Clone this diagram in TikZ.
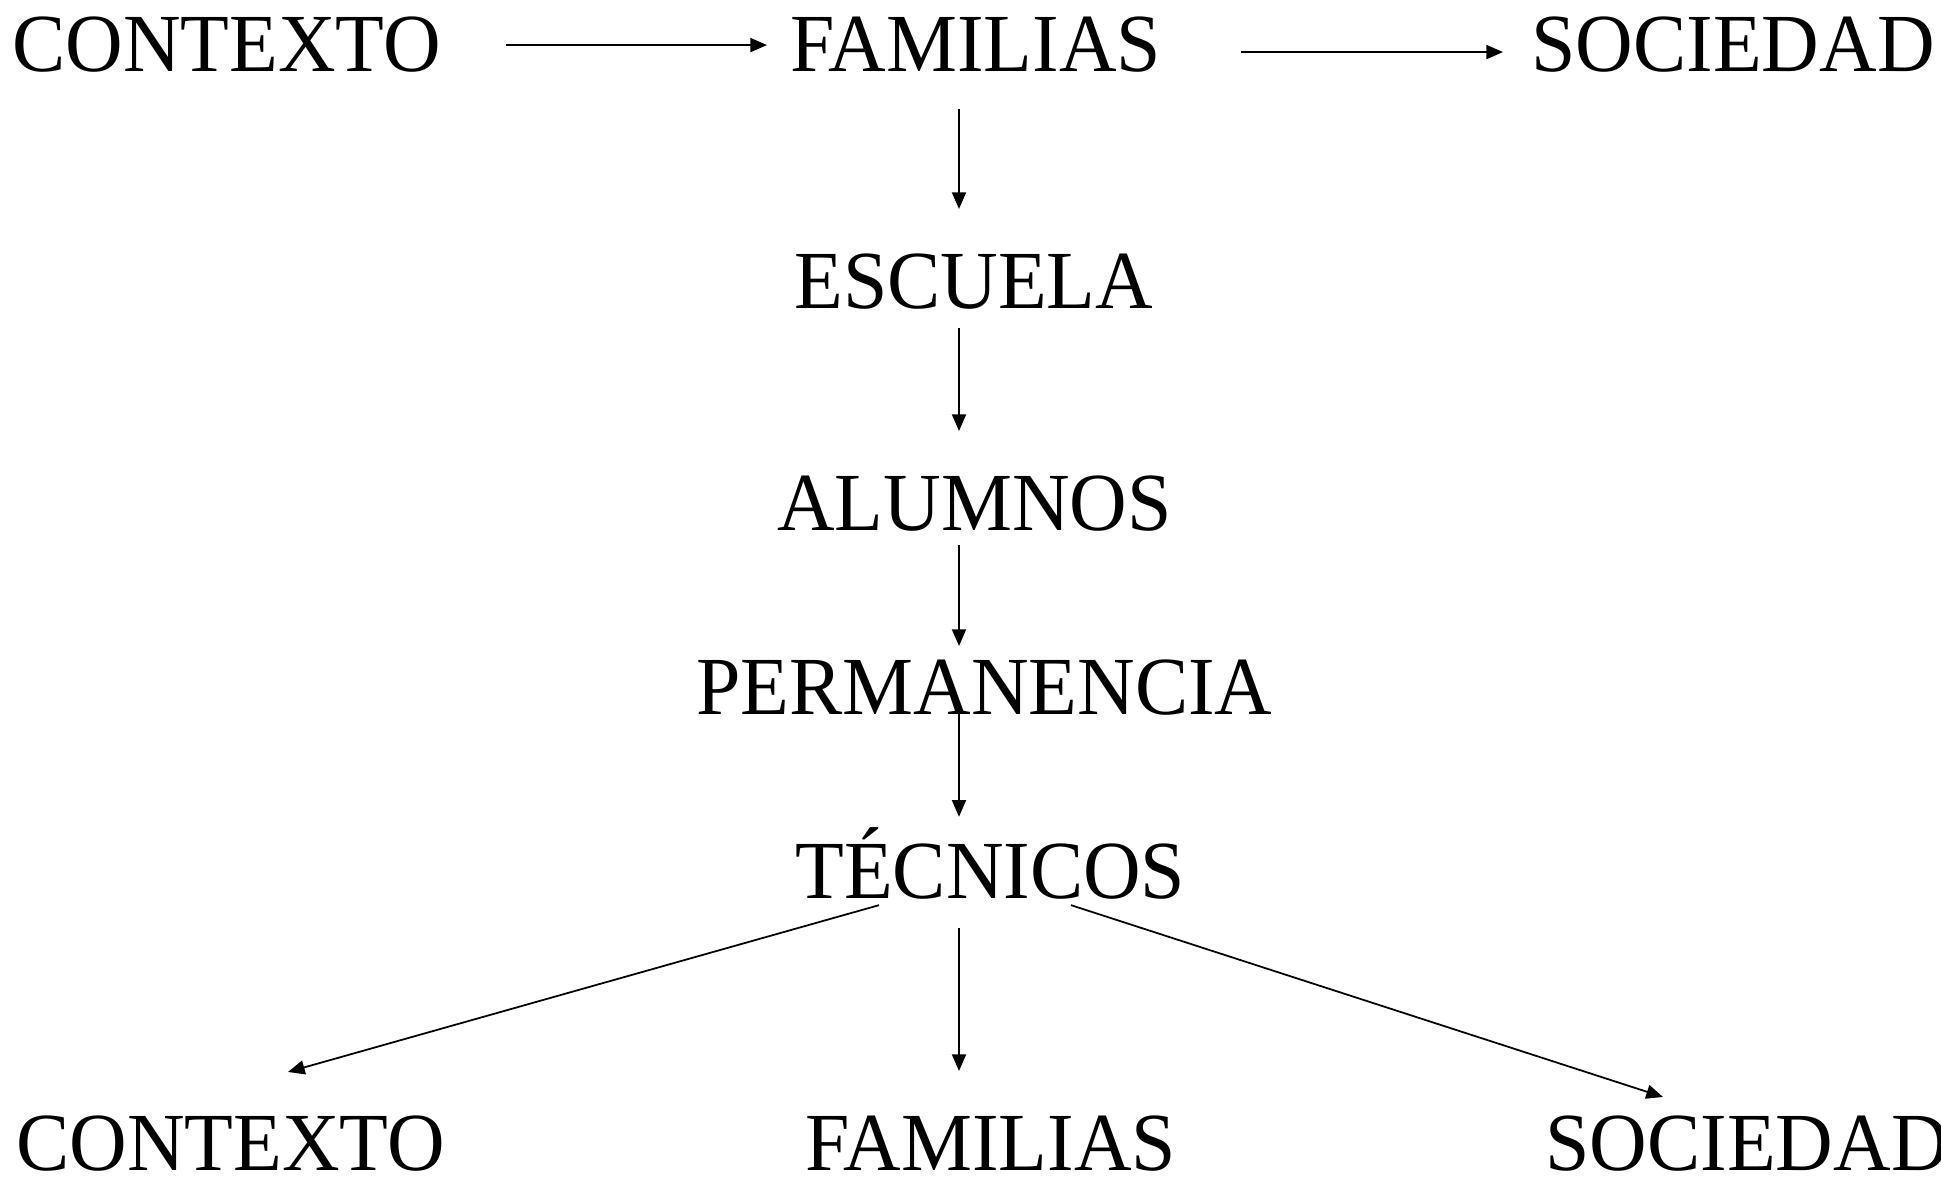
\documentclass[tikz,border=0pt]{standalone}
\usepackage{fontspec}
\setmainfont{Liberation Serif}[FakeStretch=0.966]
\usetikzlibrary{arrows.meta,calc}

\tikzset{
	lbl/.style={font=\fontsize{47}{56}\selectfont, inner sep=0pt, anchor=base west},
	arr/.style={-{Triangle[length=9.5pt,width=8pt]}, line width=1pt}
}

\begin{document}
\begin{tikzpicture}[x=0.02cm, y=-0.02cm]
			\useasboundingbox (0,0) rectangle (1941,1179);
			% Top row
			\node[lbl] (ctx) at (12,72) {CONTEXTO};
			\node[lbl] (fam) at (790,72) {FAMILIAS};
			\node[lbl] (soc) at (1531,72) {SOCIEDAD};

			% Middle column
			\node[lbl] (esc) at (794,309) {ESCUELA};
			\node[lbl] (alu) at (777,530) {ALUMNOS};
			\node[lbl] (perm) at (696,714) {PERMANENCIA};
			\node[lbl] (tec) at (795,898) {TÉCNICOS};

			% Bottom row
			\node[lbl] (ctx2) at (16,1170) {CONTEXTO};
			\node[lbl] (fam2) at (805,1170) {FAMILIAS};
			\node[lbl] (soc2) at (1545,1170) {SOCIEDAD};

			\coordinate (axis) at (959,0);

			% Top arrows
			\draw[arr, shorten <=1.3cm, shorten >=0.46cm] (ctx.east) -- (fam.west);
			\draw[arr, shorten <=1.58cm, shorten >=0.56cm] ($(fam.east)+(0,7)$) -- ($(soc.west)+(0,7)$);

			% Down the column
			\foreach \a/\b/\s/\e in {fam/esc/0.72/0.9, esc/alu/0.36/0.88, alu/perm/0.28/0.26, perm/tec/-0.06/0.2, tec/fam2/0.58/0.88}
			\draw[arr, shorten <=\s cm, shorten >=\e cm] (\a.south -| axis) -- (\b.north -| axis);

			% Spreading out
			\draw[arr] ($(tec.south west)+(84,6)$) -- ($(ctx2.north west)+(272,-43)$);
			\draw[arr] ($(tec.south west)+(276,6)$) -- ($(soc2.north west)+(118,-18)$);
		\end{tikzpicture}
\end{document}
